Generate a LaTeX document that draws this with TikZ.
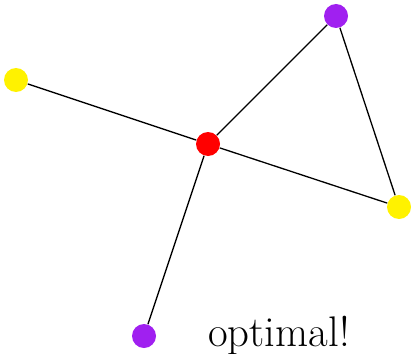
\documentclass[tikz,border=0pt]{standalone}
\definecolor{vpurple}{HTML}{A020F0}
\begin{document}
\begin{tikzpicture}[x=0.5pt,y=-0.5pt,
  vert/.style={circle,inner sep=0pt,minimum size=12pt},
  edge/.style={line width=0.65pt}]
\useasboundingbox (0,0) rectangle (411,353);
\node[vert,fill=red] (c) at (208,144) {};
\node[vert,fill=yellow] (l) at (16,80) {};
\node[vert,fill=vpurple] (t) at (336,16) {};
\node[vert,fill=yellow] (r) at (399,207) {};
\node[vert,fill=vpurple] (b) at (144,336) {};
\draw[edge] (c) -- (l);
\draw[edge] (c) -- (t);
\draw[edge] (c) -- (r);
\draw[edge] (c) -- (b);
\draw[edge] (t) -- (r);
\node[anchor=base,inner sep=0pt,font=\fontsize{21.4}{25}\selectfont] (txt) at (279,346) {optimal!};
\end{tikzpicture}
\end{document}
